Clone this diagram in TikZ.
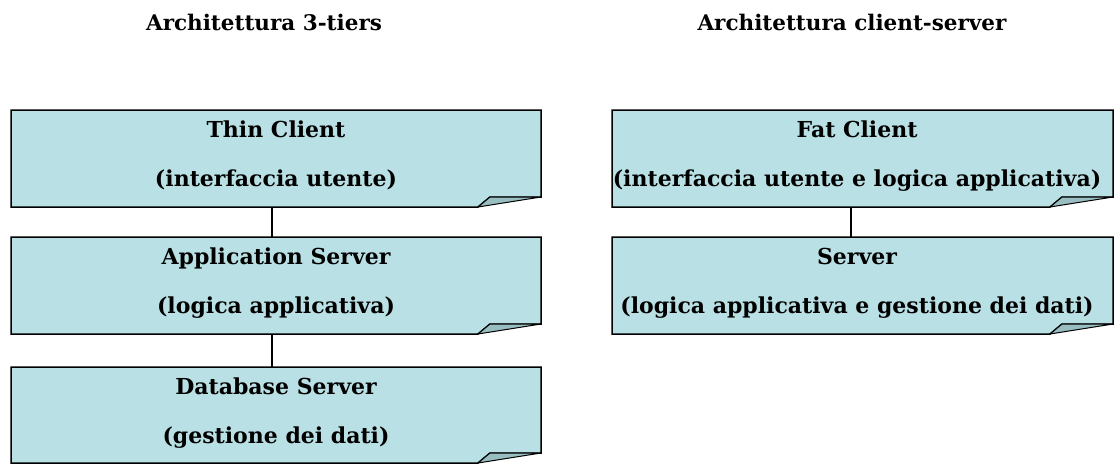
\documentclass[tikz,border=0pt]{standalone}
\usepackage{fontspec}
\setmainfont{DejaVu Serif}
\begin{document}
\begin{tikzpicture}[x=1pt,y=-1pt,
  txt/.style={font=\bfseries\fontsize{22}{24}\selectfont, inner sep=0pt, anchor=base},
  ttl/.style={font=\bfseries\fontsize{21.5}{24}\selectfont, inner sep=0pt, anchor=base},
  conn/.style={line width=1.6pt, draw=black}]
\definecolor{boxfill}{HTML}{B9E0E4}
\definecolor{foldfill}{HTML}{98BEC2}
\useasboundingbox (0,0) rectangle (1115,463);
% paper-like box with folded corner: #1 left, #2 top, #3 right, #4 bottom, #5 name
\newcommand{\paperbox}[5]{%
  \filldraw[fill=boxfill, draw=black, line width=1.5pt, line join=miter]
    (#1,#2) -- (#3,#2) -- (#3,#4-10) -- (#3-51,#4-10) -- (#3-63,#4) -- (#1,#4) -- cycle;
  \filldraw[fill=foldfill, draw=black, line width=1pt]
    (#3-63,#4) -- (#3-51,#4-10) -- (#3,#4-10) -- cycle;
  \coordinate (#5-n) at ({(#1+#3)/2},#2);
  \coordinate (#5-s) at ({(#1+#3)/2},#4);
}
\paperbox{11}{110}{541}{207}{a}
\paperbox{11}{237}{541}{334}{b}
\paperbox{11}{367}{541}{463}{c}
\paperbox{612}{110}{1113}{207}{d}
\paperbox{612}{237}{1113}{334}{e}
% connectors
\coordinate (ab1) at (272,207); \coordinate (ab2) at (272,237);
\coordinate (bc1) at (272,334); \coordinate (bc2) at (272,367);
\coordinate (de1) at (851,207); \coordinate (de2) at (851,237);
\draw[conn] (ab1) -- (ab2);
\draw[conn] (bc1) -- (bc2);
\draw[conn] (de1) -- (de2);
% titles
\node[ttl] (t1) at (264,30) {Architettura 3-tiers};
\node[ttl] (t2) at (852,30) {Architettura client-server};
% texts
\node[txt] (a1) at (276,137) {Thin Client};
\node[txt] (a2) at (276,186) {(interfaccia utente)};
\node[txt] (b1) at (276,264) {Application Server};
\node[txt] (b2) at (276,313) {(logica applicativa)};
\node[txt] (c1) at (276,394) {Database Server};
\node[txt] (c2) at (276,443) {(gestione dei dati)};
\node[txt] (d1) at (857,137) {Fat Client};
\node[txt] (d2) at (857,186) {(interfaccia utente e logica applicativa)};
\node[txt] (e1) at (857,264) {Server};
\node[txt] (e2) at (857,313) {(logica applicativa e gestione dei dati)};
\end{tikzpicture}
\end{document}
